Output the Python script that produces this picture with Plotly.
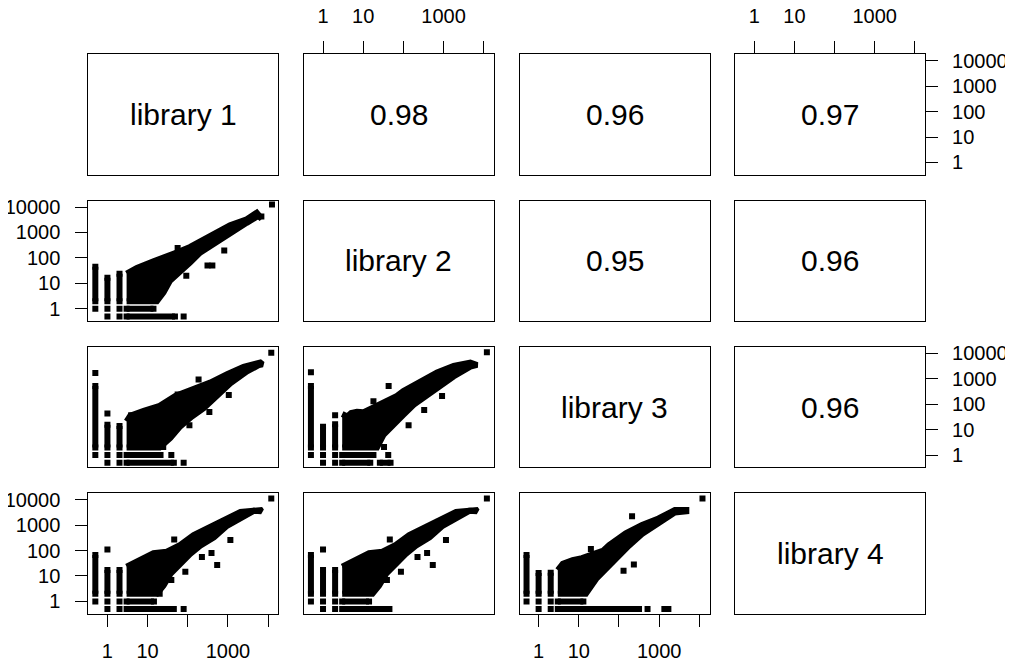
import plotly.graph_objects as go

# ---------------- data ----------------
lib_labels = ["library 1", "library 2", "library 3", "library 4"]
corr_rows = [0, 0, 0, 1, 1, 2]
corr_cols = [1, 2, 3, 2, 3, 3]
corr_text = ["0.98", "0.96", "0.97", "0.95", "0.96", "0.96"]

tick_vals = [1, 10, 100, 1000, 10000]
x_tick_text = ["1", "10", "", "1000", ""]
y_tick_text = ["1", "10", "100", "1000", "10000"]

# zero counts are drawn at 0.5
col_x = [0.5, 1, 2]          # low-count columns (x values)
row1_pts_x = [0.5, 1, 2]     # points on the y=1 row
row0_pts_x = [1, 2]          # points on the y=0 (0.5) row

# ---- library 2 (y) vs library 1 (x)
p21_col_top = [45, 16.5, 24]
p21_row1_end = [14]
p21_row0_start = [3]
p21_row0_end = [48]
p21_up_x = [3, 5.4, 14, 30, 53, 114, 203, 435, 1130, 2940, 5200, 6900]
p21_up_y = [24, 40, 74, 110, 162, 270, 425, 895, 1910, 3300, 6000, 3470]
p21_lo_x = [3, 17, 25, 36, 71, 114, 203, 435, 1360, 2940, 5700]
p21_lo_y = [2, 2, 4.4, 12.5, 31, 65, 162, 345, 1150, 2400, 4450]
p21_out_x = [92, 310, 410, 810, 6800, 56, 12500, 79]
p21_out_y = [20, 50, 50, 195, 4260, 246, 12500, 0.5]

# ---- library 3 (y) vs library 1 (x)
p31_col_top = [525, 15.5, 14]
p31_row1_end = [21]
p31_row0_start = [3]
p31_row0_end = [45]
p31_up_x = [3, 3.7, 8, 20, 49, 140, 360, 950, 2450, 6400, 7300]
p31_up_y = [21, 35, 55, 87, 213, 390, 710, 1510, 2950, 4350, 3700]
p31_lo_x = [3, 20, 37, 65, 127, 250, 540, 1150, 3000, 6000]
p31_lo_y = [2, 2, 4.7, 13.5, 33, 70, 235, 670, 1950, 3500]
p31_out_x = [0.5, 1, 186, 56, 3.9, 1050, 345, 110, 24.5, 12000, 39, 79]
p31_out_y = [1700, 43, 940, 240, 37, 230, 49, 15, 2.1, 10500, 1, 0.5]

# ---- library 3 (y) vs library 2 (x)
p32_col_top = [525, 13, 16.5]
p32_row1_end = [18]
p32_row0_start = [3, 26]
p32_row0_end = [15, 48]
p32_up_x = [3, 4, 5, 7, 10, 26, 69, 100, 265, 690, 1790, 4650, 6900]
p32_up_y = [41, 33, 45, 50, 48, 100, 213, 330, 830, 1780, 3200, 4350, 3500]
p32_lo_x = [3, 22, 32, 57, 100, 180, 320, 690, 1780, 4650]
p32_lo_y = [2, 2, 6.3, 15.5, 38, 95, 173, 430, 1230, 3000]
p32_out_x = [0.5, 2, 18, 43, 135, 330, 920, 33, 12000, 42]
p32_out_y = [1800, 37, 130, 520, 15, 59, 210, 2.1, 11000, 1]

# ---- library 4 (y) vs library 1 (x)
p41_col_top = [66, 17, 17]
p41_row1_end = [14.4]
p41_row0_start = [3]
p41_row0_end = [45]
p41_up_x = [3, 4.5, 8, 14, 30, 65, 140, 360, 1150, 2050, 6500, 6800]
p41_up_y = [23, 32, 52, 78, 90, 165, 405, 860, 2130, 3300, 3900, 3500]
p41_lo_x = [3, 17, 25, 37, 65, 115, 205, 450, 950, 2050, 4400]
p41_lo_y = [2, 2, 4.2, 12, 30, 73, 155, 330, 940, 2000, 3650]
p41_out_x = [1, 46, 39, 20, 87, 225, 390, 540, 1150, 12000, 79]
p41_out_y = [110, 270, 7, 2, 14.5, 56, 80, 27, 260, 11000, 0.5]

# ---- library 4 (y) vs library 2 (x)
p42_col_top = [66, 17, 17]
p42_row1_end = [14]
p42_row0_start = [3]
p42_row0_end = [45]
p42_up_x = [3, 4.5, 8, 14, 30, 65, 140, 360, 1150, 2050, 6500, 6800]
p42_up_y = [23, 32, 52, 78, 90, 165, 405, 860, 2130, 3300, 3900, 3500]
p42_lo_x = [3, 17, 25, 37, 65, 115, 205, 450, 950, 2050, 4400]
p42_lo_y = [2, 2, 4.2, 12, 30, 73, 155, 330, 940, 2000, 3650]
p42_out_x = [1, 46, 39, 87, 225, 390, 540, 1150, 12000]
p42_out_y = [110, 270, 7, 14.5, 56, 80, 27, 260, 11000]

# ---- library 4 (y) vs library 3 (x)
p43_col_top = [66, 13, 13.5]
p43_row1_end = [13]
p43_row0_start = [3]
p43_row0_end = [316]
p43_up_x = [3, 4, 7, 12, 25, 41, 57, 147, 375, 960, 2460, 4750]
p43_up_y = [17, 30, 42, 50, 75, 100, 165, 470, 1000, 1830, 3900, 3900]
p43_lo_x = [3, 15, 27, 48, 83, 177, 375, 960, 2460, 4750]
p43_lo_y = [2, 2, 7.6, 19, 47, 155, 445, 1280, 3150, 3500]
p43_out_x = [20, 130, 235, 212, 12000, 515, 1350, 1700]
p43_out_y = [115, 16, 28, 2250, 11000, 0.5, 0.5, 0.5]

# ---------------- layout geometry ----------------
# the page body has an 8px margin, so the figure starts 8px in; it is sized
# to reach exactly the right and bottom edges of the window
OFF = 8
FIG_W, FIG_H = 1013 - OFF, 661 - OFF
PANEL_LEFT = [88.3 - OFF, 303.9 - OFF, 519.5 - OFF, 735.1 - OFF]
PANEL_W = 190.0
PANEL_TOP = [54.3 - OFF, 200.6 - OFF, 346.9 - OFF, 493.2 - OFF]
PANEL_H = 120.3
AX_RANGE = [-0.476, 4.254]
FONT = "Liberation Sans, Arial, Helvetica, sans-serif"

fig = go.Figure()


def ax_id(r, c):
    k = r * 4 + c + 1
    return ("" if k == 1 else str(k))


def add_panel(r, c, col_top, row1_end, row0_start, row0_end,
              up_x, up_y, lo_x, lo_y, out_x, out_y):
    k = ax_id(r, c)
    xa, ya = "x" + k, "y" + k
    # dense cloud
    fig.add_trace(go.Scatter(
        x=up_x + lo_x[::-1], y=up_y + lo_y[::-1], xaxis=xa, yaxis=ya,
        mode="lines", fill="toself", fillcolor="black",
        line=dict(color="black", width=6), hoverinfo="skip", showlegend=False))
    # columns and rows of low counts
    sx, sy = [], []
    for xv, top in zip(col_x, col_top):
        sx += [xv, xv, None]
        sy += [2, top, None]
    for xe in row1_end:
        sx += [3, xe, None]
        sy += [1, 1, None]
    for xs, xe in zip(row0_start, row0_end):
        sx += [xs, xe, None]
        sy += [0.5, 0.5, None]
    fig.add_trace(go.Scatter(
        x=sx, y=sy, xaxis=xa, yaxis=ya, mode="lines+markers",
        line=dict(color="black", width=6),
        marker=dict(symbol="square", size=6, color="black"),
        hoverinfo="skip", showlegend=False))
    px = list(row1_pts_x) + list(row0_pts_x) + list(out_x)
    py = [1] * len(row1_pts_x) + [0.5] * len(row0_pts_x) + list(out_y)
    fig.add_trace(go.Scatter(
        x=px, y=py, xaxis=xa, yaxis=ya, mode="markers",
        marker=dict(symbol="square", size=6, color="black"),
        hoverinfo="skip", showlegend=False))


add_panel(1, 0, p21_col_top, p21_row1_end, p21_row0_start, p21_row0_end,
          p21_up_x, p21_up_y, p21_lo_x, p21_lo_y, p21_out_x, p21_out_y)
add_panel(2, 0, p31_col_top, p31_row1_end, p31_row0_start, p31_row0_end,
          p31_up_x, p31_up_y, p31_lo_x, p31_lo_y, p31_out_x, p31_out_y)
add_panel(2, 1, p32_col_top, p32_row1_end, p32_row0_start, p32_row0_end,
          p32_up_x, p32_up_y, p32_lo_x, p32_lo_y, p32_out_x, p32_out_y)
add_panel(3, 0, p41_col_top, p41_row1_end, p41_row0_start, p41_row0_end,
          p41_up_x, p41_up_y, p41_lo_x, p41_lo_y, p41_out_x, p41_out_y)
add_panel(3, 1, p42_col_top, p42_row1_end, p42_row0_start, p42_row0_end,
          p42_up_x, p42_up_y, p42_lo_x, p42_lo_y, p42_out_x, p42_out_y)
add_panel(3, 2, p43_col_top, p43_row1_end, p43_row0_start, p43_row0_end,
          p43_up_x, p43_up_y, p43_lo_x, p43_lo_y, p43_out_x, p43_out_y)

x_top = {(0, 1), (0, 3)}
x_bottom = {(3, 0), (3, 2)}
y_left = {(1, 0), (3, 0)}
y_right = {(0, 3), (2, 3)}

layout = {}
annotations = []
for r in range(4):
    for c in range(4):
        k = ax_id(r, c)
        x0 = PANEL_LEFT[c] / FIG_W
        x1 = (PANEL_LEFT[c] + PANEL_W) / FIG_W
        y1 = (FIG_H - PANEL_TOP[r]) / FIG_H
        y0 = (FIG_H - PANEL_TOP[r] - PANEL_H) / FIG_H
        base = dict(type="log", range=AX_RANGE, showline=True, mirror=True,
                    linecolor="black", linewidth=1, showgrid=False,
                    zeroline=False, fixedrange=True, automargin=False,
                    tickfont=dict(family=FONT, size=20, color="black"),
                    tickcolor="black", tickwidth=1, ticklen=12)
        xd = dict(base, domain=[x0, x1], anchor="y" + k)
        yd = dict(base, domain=[y0, y1], anchor="x" + k)
        if (r, c) in x_top or (r, c) in x_bottom:
            top = (r, c) in x_top
            xd.update(ticks="outside", side="top" if top else "bottom",
                      tickvals=tick_vals, ticktext=x_tick_text,
                      showticklabels=True, ticklabelstandoff=10 if top else 7)
        else:
            xd.update(ticks="", showticklabels=False)
        if (r, c) in y_left or (r, c) in y_right:
            left = (r, c) in y_left
            yd.update(ticks="outside", side="left" if left else "right",
                      tickvals=tick_vals, ticktext=y_tick_text,
                      showticklabels=True, ticklabelstandoff=11 if left else 10)
        else:
            yd.update(ticks="", showticklabels=False)
        layout["xaxis" + k] = xd
        layout["yaxis" + k] = yd
        if r == c:
            annotations.append(dict(
                text=lib_labels[r], xref="x" + k + " domain", yref="y" + k + " domain",
                x=0.5, y=0.5, showarrow=False,
                font=dict(family=FONT, size=30, color="black")))

for r, c, t in zip(corr_rows, corr_cols, corr_text):
    k = ax_id(r, c)
    annotations.append(dict(
        text=t, xref="x" + k + " domain", yref="y" + k + " domain",
        x=0.5, y=0.5, showarrow=False,
        font=dict(family=FONT, size=30, color="black")))

# empty traces so every axis pair exists
for r in range(4):
    for c in range(4):
        if r <= c:
            k = ax_id(r, c)
            fig.add_trace(go.Scatter(x=[None], y=[None], xaxis="x" + k, yaxis="y" + k,
                                     showlegend=False, hoverinfo="skip"))

fig.update_layout(width=FIG_W, height=FIG_H, margin=dict(l=0, r=0, t=0, b=0),
                  paper_bgcolor="white", plot_bgcolor="white",
                  showlegend=False, annotations=annotations, **layout)

fig.write_html("out.html", config={"displayModeBar": False})
